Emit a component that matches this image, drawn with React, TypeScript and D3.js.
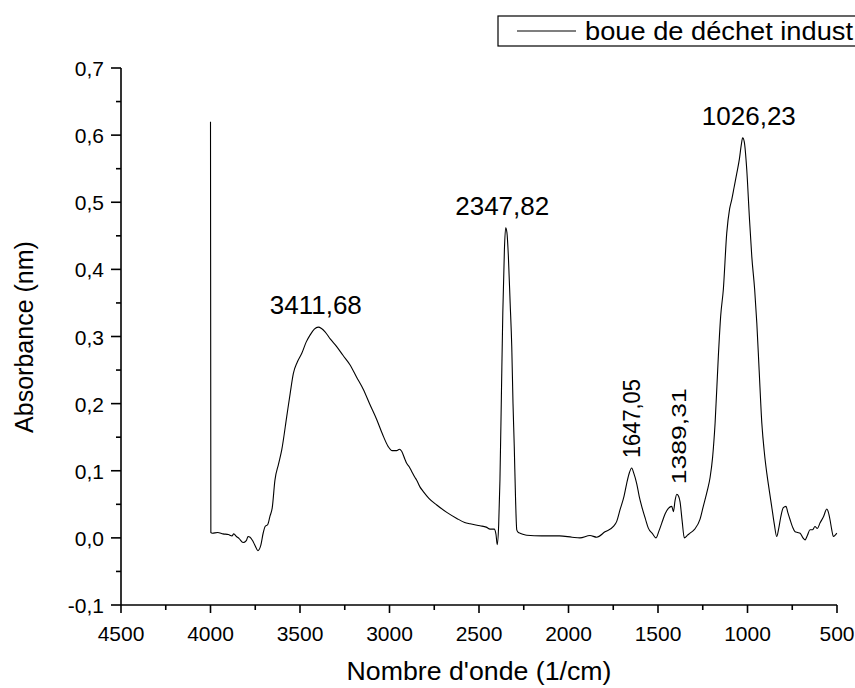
import React from "react";
import * as d3 from "d3";

const wavenumbers = [
  4000, 3998, 3990, 3960, 3930, 3900, 3880, 3870, 3855, 3840, 3818, 3800, 3790, 3779, 3765, 3750, 3735, 3720, 3705, 3695,
  3680, 3668, 3655, 3640, 3620, 3602, 3574, 3555, 3537, 3515, 3490, 3465, 3444, 3420, 3398, 3380, 3360, 3330, 3295, 3260,
  3221, 3185, 3146, 3110, 3071, 3040, 3007, 2985, 2960, 2945, 2932, 2915, 2904, 2890, 2876, 2860, 2848, 2830, 2811, 2780,
  2736, 2680, 2624, 2580, 2550, 2494, 2460, 2438, 2415, 2405, 2398, 2390, 2383, 2375, 2367, 2358, 2351, 2344, 2336, 2326,
  2317, 2310, 2303, 2296, 2289, 2280, 2270, 2250, 2233, 2150, 2050, 1980, 1936, 1880, 1842, 1796, 1749, 1730, 1712, 1690,
  1675, 1660, 1647, 1635, 1619, 1605, 1591, 1570, 1554, 1530, 1511, 1495, 1479, 1460, 1442, 1423, 1414, 1405, 1395, 1385,
  1377, 1365, 1353, 1335, 1321, 1295, 1265, 1247, 1225, 1209, 1195, 1181, 1163, 1150, 1135, 1116, 1100, 1088, 1075, 1060,
  1045, 1035, 1027, 1018, 1004, 990, 976, 960, 948, 935, 920, 905, 892, 878, 865, 850, 837, 825, 815, 800,
  785, 775, 762, 748, 734, 720, 706, 690, 678, 665, 651, 637, 623, 610, 595, 575, 557, 548, 539, 530,
  520, 510, 501,
];

const absorbance = [
  0.62, 0.008, 0.007, 0.008, 0.006, 0.005, 0.003, 0.006, 0.002, -0.001, -0.007, -0.004, 0.002, 0.001, -0.004, -0.012, -0.019, -0.012, 0.008, 0.017,
  0.02, 0.032, 0.045, 0.086, 0.11, 0.131, 0.181, 0.215, 0.245, 0.262, 0.275, 0.292, 0.302, 0.311, 0.314, 0.312, 0.307, 0.296, 0.285, 0.272,
  0.258, 0.24, 0.221, 0.199, 0.176, 0.155, 0.136, 0.13, 0.13, 0.132, 0.129, 0.118, 0.111, 0.106, 0.099, 0.091, 0.086, 0.076, 0.069, 0.059,
  0.049, 0.038, 0.029, 0.023, 0.021, 0.018, 0.016, 0.013, 0.013, 0.005, -0.01, 0.02, 0.086, 0.21, 0.335, 0.43, 0.462, 0.455, 0.42, 0.35,
  0.285, 0.2, 0.136, 0.06, 0.012, 0.008, 0.007, 0.005, 0.004, 0.003, 0.003, 0.001, 0.0, 0.0035, 0.001, 0.009, 0.017, 0.025, 0.042, 0.062,
  0.081, 0.097, 0.104, 0.096, 0.081, 0.062, 0.047, 0.028, 0.0145, 0.006, 0.0, 0.01, 0.022, 0.036, 0.044, 0.047, 0.039, 0.055, 0.065, 0.062,
  0.054, 0.025, 0.0, 0.004, 0.007, 0.013, 0.028, 0.047, 0.07, 0.09, 0.12, 0.171, 0.27, 0.33, 0.37, 0.454, 0.49, 0.504, 0.522, 0.543,
  0.565, 0.585, 0.596, 0.59, 0.548, 0.48, 0.419, 0.37, 0.32, 0.25, 0.171, 0.125, 0.096, 0.07, 0.047, 0.02, 0.002, 0.015, 0.03, 0.045,
  0.047, 0.038, 0.027, 0.016, 0.009, 0.008, 0.007, 0.0, -0.003, 0.004, 0.012, 0.012, 0.017, 0.014, 0.022, 0.032, 0.043, 0.038, 0.027, 0.013,
  0.002, 0.004, 0.007,
];

const xTickValues = [4500, 4000, 3500, 3000, 2500, 2000, 1500, 1000, 500];
const xTickLabels = ["4500", "4000", "3500", "3000", "2500", "2000", "1500", "1000", "500"];
const yTickValues = [-0.1, 0, 0.1, 0.2, 0.3, 0.4, 0.5, 0.6, 0.7];
const yTickLabels = ["-0,1", "0,0", "0,1", "0,2", "0,3", "0,4", "0,5", "0,6", "0,7"];

const peakPositions = [3411.68, 2347.82, 1026.23];
const peakValues = [0.314, 0.462, 0.596];
const peakLabels = ["3411,68", "2347,82", "1026,23"];
const smallPeakPositions = [1647.05, 1389.31];
const smallPeakValues = [0.104, 0.065];
const smallPeakLabels = ["1647,05", "1389,31"];

const seriesName = "boue de déchet indust";
const xTitle = "Nombre d'onde (1/cm)";
const yTitle = "Absorbance (nm)";

export default function App() {
  const W = 855;
  const H = 688;
  const x = d3.scaleLinear().domain([4500, 500]).range([121, 837]);
  const y = d3.scaleLinear().domain([-0.1, 0.7]).range([605, 68]);
  const font = "'Liberation Sans', Arial, sans-serif";

  const pts = wavenumbers.map((w, i) => [w, absorbance[i]] as [number, number]);
  const line = d3
    .line<[number, number]>()
    .x((d) => x(d[0]))
    .y((d) => y(d[1]))
    .curve(d3.curveMonotoneX);

  const xMinor = d3.range(4250, 500, -500);
  const yMinor = d3.range(-0.05, 0.7, 0.1);

  const peakDx = [0, -4, 6];
  const smallLen = [79, 96];
  const smallSize = [23, 21];

  return (
    <svg
      width={W}
      height={H}
      style={{ position: "absolute", left: 0, top: 0, background: "#fff" }}
      fontFamily={font}
    >
      <rect x={0} y={0} width={W} height={H} fill="#fff" />
      <path d={line(pts) || ""} fill="none" stroke="#000" strokeWidth={1.1} />

      <line x1={x(4500)} x2={x(500)} y1={605} y2={605} stroke="#000" strokeWidth={1.6} />
      <line x1={121} x2={121} y1={y(-0.1)} y2={y(0.7)} stroke="#000" strokeWidth={1.6} />
      {xTickValues.map((v, i) => (
        <g key={"xt" + i}>
          <line x1={x(v)} x2={x(v)} y1={605} y2={613} stroke="#000" strokeWidth={1.6} />
          <text x={x(v)} y={641} textAnchor="middle" fontSize={21} fill="#000">
            {xTickLabels[i]}
          </text>
        </g>
      ))}
      {xMinor.map((v, i) => (
        <line key={"xm" + i} x1={x(v)} x2={x(v)} y1={605} y2={610} stroke="#000" strokeWidth={1.6} />
      ))}
      {yTickValues.map((v, i) => (
        <g key={"yt" + i}>
          <line x1={111} x2={121} y1={y(v)} y2={y(v)} stroke="#000" strokeWidth={1.6} />
          <text x={104} y={y(v) + 8} textAnchor="end" fontSize={21} fill="#000">
            {yTickLabels[i]}
          </text>
        </g>
      ))}
      {yMinor.map((v, i) => (
        <line key={"ym" + i} x1={116} x2={121} y1={y(v)} y2={y(v)} stroke="#000" strokeWidth={1.6} />
      ))}

      <text x={479} y={680} textAnchor="middle" fontSize={25} textLength={265} lengthAdjust="spacingAndGlyphs" fill="#000">
        {xTitle}
      </text>
      <text transform={`translate(33,337) rotate(-90)`} textAnchor="middle" fontSize={25} fill="#000">
        {yTitle}
      </text>

      {peakPositions.map((p, i) => (
        <text
          key={"pk" + i}
          x={x(p) + peakDx[i]}
          y={y(peakValues[i]) - 13}
          textAnchor="middle"
          fontSize={26}
          fill="#000"
        >
          {peakLabels[i]}
        </text>
      ))}
      {smallPeakPositions.map((p, i) => (
        <text
          key={"sp" + i}
          transform={`translate(${x(p) + 8},${y(smallPeakValues[i]) - 10}) rotate(-90)`}
          textAnchor="start"
          fontSize={smallSize[i]}
          textLength={smallLen[i]}
          lengthAdjust="spacingAndGlyphs"
          fill="#000"
        >
          {smallPeakLabels[i]}
        </text>
      ))}

      <rect x={498} y={16} width={700} height={30} fill="#fff" stroke="#000" strokeWidth={1.2} />
      <line x1={517} x2={576} y1={31} y2={31} stroke="#000" strokeWidth={1.1} />
      <text x={585} y={40} fontSize={25} textLength={268} lengthAdjust="spacingAndGlyphs" fill="#000">
        {seriesName}
      </text>
    </svg>
  );
}
